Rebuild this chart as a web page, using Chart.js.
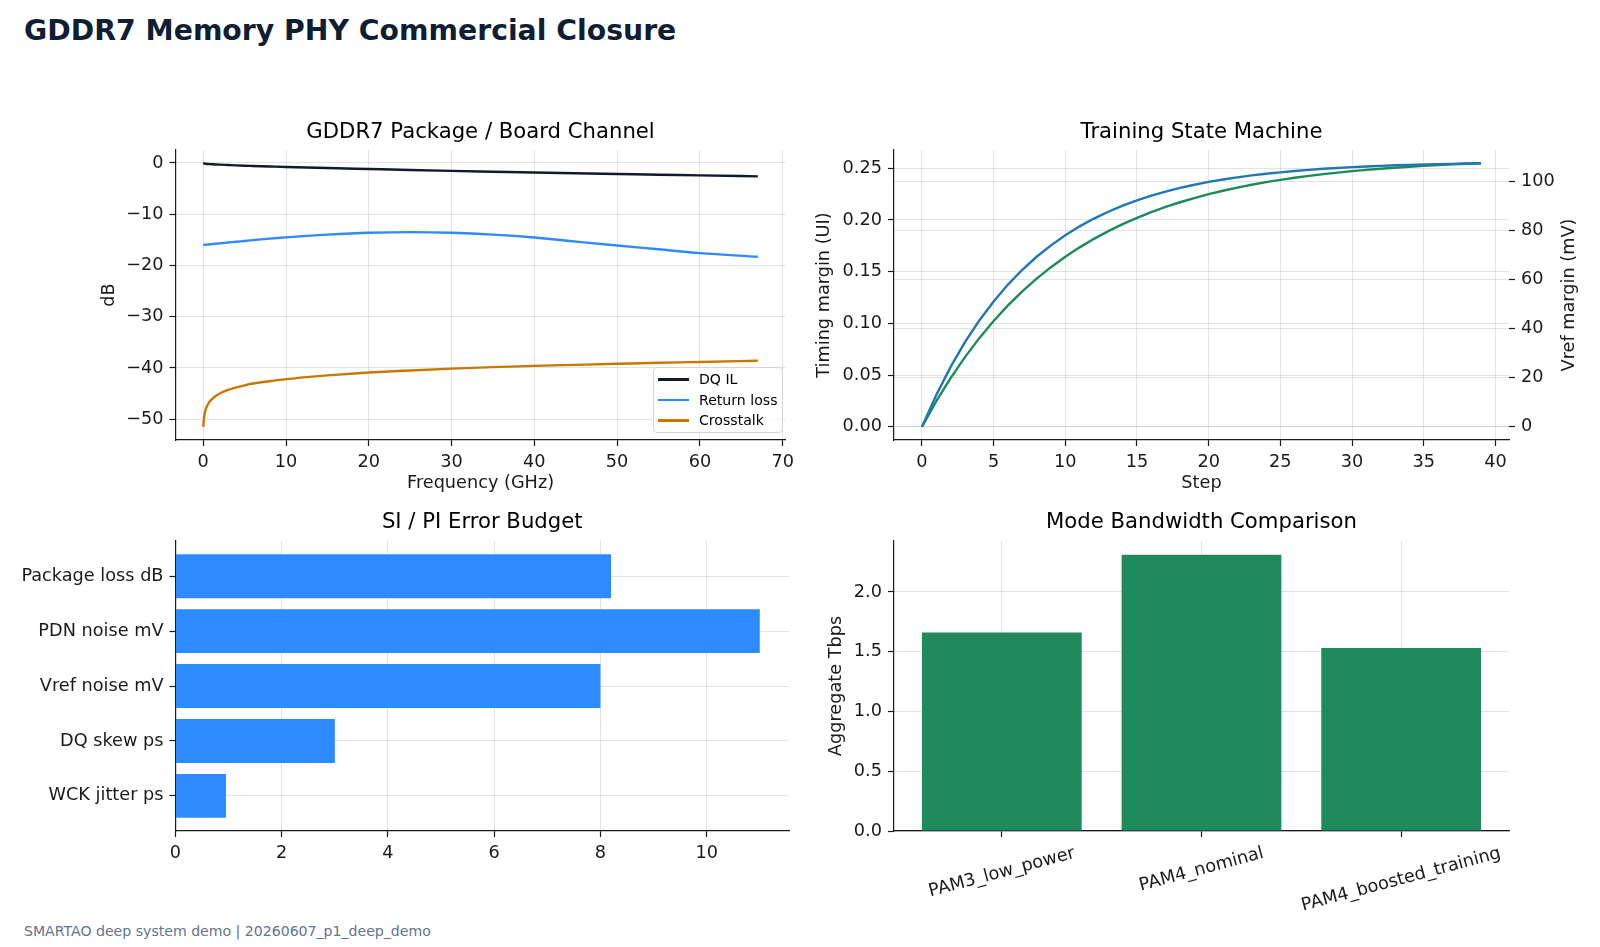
<!DOCTYPE html>
<html>
<head>
<meta charset="utf-8">
<title>GDDR7 Memory PHY Commercial Closure</title>
<script src="https://cdn.jsdelivr.net/npm/chart.js@4.4.1/dist/chart.umd.min.js"></script>
<style>
    html, body { margin: 0; padding: 0; background: #fff; }
    body { width: 1600px; height: 947px; position: relative; overflow: hidden; font-family: 'DejaVu Sans', sans-serif; }
    .suptitle { position: absolute; left: 24px; top: 17px; margin: 0; font-size: 28.3px; line-height: 28px; font-weight: bold; color: #0f1e32; white-space: nowrap; }
    .footer { position: absolute; left: 24px; top: 924px; font-size: 14.1px; line-height: 14px; color: #64748b; white-space: nowrap; }
    canvas { position: absolute; }
    .legend { position: absolute; left: 653px; top: 367px; width: 128px; height: 64px; border: 1px solid #d4d4d4; border-radius: 4px; background: rgba(255,255,255,0.8); font-size: 14.1px; color: #000; }
    .legend .row { position: absolute; left: 0; height: 20px; line-height: 20px; white-space: nowrap; }
    .legend .swatch { position: absolute; left: 4px; top: 9px; width: 31px; height: 2.5px; }
    .legend .lbl { position: absolute; left: 45px; top: 0; }
</style>
</head>
<body>
<h1 class="suptitle">GDDR7 Memory PHY Commercial Closure</h1>

<canvas id="channelChart" width="800" height="380" style="left:0px; top:120px;"></canvas>
<canvas id="trainingChart" width="800" height="380" style="left:800px; top:120px;"></canvas>
<canvas id="budgetChart" width="800" height="360" style="left:0px; top:510px;"></canvas>
<canvas id="modeChart" width="800" height="430" style="left:800px; top:510px;"></canvas>
<div class="legend" id="channelLegend"></div>

<div class="footer">SMARTAO deep system demo | 20260607_p1_deep_demo</div>

<script>
// --- Data: package / board channel (dB vs GHz) ---
const freqGHz    = [0, 0.1, 0.3, 0.6, 1, 1.5, 2, 3, 4, 5, 6, 8, 10, 12.5, 15, 20, 25, 30, 35, 40, 45, 50, 55, 60, 67];
const dqIL       = [-0.05, -0.1, -0.15, -0.2, -0.24, -0.29, -0.33, -0.4, -0.47, -0.53, -0.58, -0.68, -0.78, -0.89, -0.99, -1.18, -1.37, -1.55, -1.71, -1.87, -2.01, -2.15, -2.29, -2.42, -2.62];
const returnLoss = [-16.0, -15.98, -15.95, -15.91, -15.84, -15.76, -15.69, -15.53, -15.38, -15.22, -15.07, -14.77, -14.53, -14.23, -13.98, -13.62, -13.5, -13.62, -13.98, -14.55, -15.35, -16.12, -16.85, -17.6, -18.3];
const crosstalk  = [-51.5, -49.7, -48.1, -47.0, -46.2, -45.5, -45.0, -44.3, -43.8, -43.4, -43.05, -42.6, -42.2, -41.8, -41.45, -40.9, -40.5, -40.15, -39.85, -39.6, -39.4, -39.2, -39.0, -38.85, -38.6];
const channelLabels = ['DQ IL', 'Return loss', 'Crosstalk'];
const freqTicks = [0, 10, 20, 30, 40, 50, 60, 70];
const dbTicks = [-50, -40, -30, -20, -10, 0];

// --- Data: training state machine ---
const steps = [0, 1, 2, 3, 4, 5, 6, 7, 8, 9, 10, 11, 12, 13, 14, 15, 16, 17, 18, 19, 20, 21, 22, 23, 24, 25, 26, 27, 28, 29, 30, 31, 32, 33, 34, 35, 36, 37, 38, 39];
const timingMargin = [0, 0.0308, 0.0579, 0.0818, 0.1028, 0.1212, 0.1375, 0.1518, 0.1644, 0.1754,
    0.1852, 0.1938, 0.2013, 0.2079, 0.2138, 0.2189, 0.2234, 0.2274, 0.2309, 0.234,
    0.2367, 0.2391, 0.2411, 0.243, 0.2446, 0.246, 0.2473, 0.2484, 0.2494, 0.2502,
    0.251, 0.2517, 0.2522, 0.2528, 0.2532, 0.2536, 0.2539, 0.2542, 0.2545, 0.2548];
const vrefMargin = [0, 10.42, 19.85, 28.38, 36.1, 43.09, 49.41, 55.12, 60.3, 64.98,
    69.22, 73.05, 76.52, 79.66, 82.5, 85.07, 87.39, 89.49, 91.4, 93.12,
    94.68, 96.09, 97.37, 98.52, 99.57, 100.51, 101.36, 102.14, 102.84, 103.48,
    104.05, 104.57, 105.03, 105.46, 105.84, 106.19, 106.51, 106.8, 107.05, 107.29];
const stepTicks = [0, 5, 10, 15, 20, 25, 30, 35, 40];
const timingTicks = [0, 0.05, 0.1, 0.15, 0.2, 0.25];
const vrefTicks = [0, 20, 40, 60, 80, 100];

// --- Data: SI / PI error budget (top to bottom) ---
const budgetItems = ['Package loss dB', 'PDN noise mV', 'Vref noise mV', 'DQ skew ps', 'WCK jitter ps'];
const budgetValues = [8.2, 11.0, 8.0, 3.0, 0.95];
const budgetTicks = [0, 2, 4, 6, 8, 10];

// --- Data: mode bandwidth ---
const modes = ['PAM3_low_power', 'PAM4_nominal', 'PAM4_boosted_training'];
const modeTbps = [1.66, 2.31, 1.53];
const tbpsTicks = [0, 0.5, 1.0, 1.5, 2.0];

// --- Styling ---
const INK = '#1a1a1a';
const GRID = 'rgba(176,176,176,0.35)';
const CHANNEL_COLORS = ['#0f1b2d', '#2e8bff', '#c87800'];
const TIMING_COLOR = '#1f77b4';
const VREF_COLOR = '#1d8a5a';
const BUDGET_COLOR = '#2e8bff';
const MODE_COLOR = '#218a5c';
const TICK_FONT = 17.7;
const TITLE_FONT = 21.2;

Chart.defaults.font.family = "'DejaVu Sans', sans-serif";
Chart.defaults.font.size = TICK_FONT;
Chart.defaults.color = INK;

window.onload = () => {
    buildLegend();
    drawChannel();
    drawTraining();
    drawBudget();
    drawModes();
};

// matplotlib style 5% margins
function limits(lo, hi) {
    const m = (hi - lo) * 0.05;
    return [lo - m, hi + m];
}

const minus = v => String(v).replace('-', '\u2212');

function makeScale(o) {
    return {
        type: 'linear',
        position: o.position,
        min: o.min, max: o.max,
        reverse: !!o.reverse,
        offset: false,
        z: o.z || 0,
        afterBuildTicks: s => { s.ticks = o.ticks.map(v => ({ value: v })); },
        afterFit: s => { if (s.isHorizontal()) s.height = o.size; else s.width = o.size; },
        ticks: { display: o.showLabels !== false, padding: 6, color: INK, autoSkip: false, maxRotation: 0, minRotation: 0, callback: o.fmt || (v => v) },
        grid: { display: true, offset: false, color: GRID, lineWidth: 1, drawTicks: true, tickLength: 6, tickColor: INK, tickWidth: 1.2, drawOnChartArea: true },
        border: { display: o.border !== false, color: INK, width: 1.2 },
        title: o.title
            ? { display: true, text: o.title, color: INK, padding: o.titlePad, font: { size: TICK_FONT } }
            : { display: false }
    };
}

// title centred over the plot area, like matplotlib's ax.set_title
function titleOpts(text, bottom) {
    return { display: true, fullSize: false, text: text, color: '#000', font: { size: TITLE_FONT, weight: 'normal' }, padding: { top: 0, bottom: bottom } };
}

const baseOpts = {
    responsive: false,
    animation: false,
    devicePixelRatio: 1,
    events: []
};

// --- Plugins ---
const rightAxisTitle = {
    id: 'rightAxisTitle',
    afterDraw(chart, args, opts) {
        const { ctx, chartArea } = chart;
        ctx.save();
        ctx.font = TICK_FONT + "px 'DejaVu Sans'";
        ctx.fillStyle = INK;
        ctx.textAlign = 'center';
        ctx.textBaseline = 'middle';
        ctx.translate(opts.x, (chartArea.top + chartArea.bottom) / 2);
        ctx.rotate(-Math.PI / 2);
        ctx.fillText(opts.text, 0, 0);
        ctx.restore();
    }
};

const slantedLabels = {
    id: 'slantedLabels',
    afterDraw(chart, args, opts) {
        const { ctx, chartArea } = chart;
        const xs = chart.scales.x;
        const a = opts.angle * Math.PI / 180;
        ctx.save();
        ctx.font = TICK_FONT + "px 'DejaVu Sans'";
        ctx.fillStyle = INK;
        ctx.textAlign = 'center';
        ctx.textBaseline = 'middle';
        opts.labels.forEach((t, i) => {
            const w = ctx.measureText(t).width;
            const boxH = w * Math.sin(a) + opts.lineH * Math.cos(a);
            const cx = xs.getPixelForValue(i);
            const cy = chartArea.bottom + opts.gap + boxH / 2;
            ctx.save();
            ctx.translate(cx, cy);
            ctx.rotate(-a);
            ctx.fillText(t, 0, 0);
            ctx.restore();
        });
        ctx.restore();
    }
};

// --- Panels ---
function buildLegend() {
    const box = document.getElementById('channelLegend');
    const tops = [1, 21.5, 42];
    channelLabels.forEach((name, i) => {
        const row = document.createElement('div');
        row.className = 'row';
        row.style.top = tops[i] + 'px';
        row.innerHTML = `<span class="swatch" style="background:${CHANNEL_COLORS[i]}"></span><span class="lbl">${name}</span>`;
        box.appendChild(row);
    });
}

function drawChannel() {
    const series = [dqIL, returnLoss, crosstalk];
    const [xMin, xMax] = limits(Math.min(...freqGHz), Math.max(...freqGHz));
    const all = series.flat();
    const [yMin, yMax] = limits(Math.min(...all), Math.max(...all));

    new Chart(document.getElementById('channelChart'), {
        type: 'line',
        data: {
            datasets: series.map((vals, i) => ({
                label: channelLabels[i],
                data: freqGHz.map((f, j) => ({ x: f, y: vals[j] })),
                borderColor: CHANNEL_COLORS[i],
                borderWidth: 2.4,
                pointRadius: 0,
                cubicInterpolationMode: 'monotone',
                fill: false
            }))
        },
        options: {
            ...baseOpts,
            layout: { padding: { left: 0, right: 11, top: 0, bottom: 0 } },
            plugins: { legend: { display: false }, tooltip: { enabled: false }, title: titleOpts('GDDR7 Package / Board Channel', 4.6) },
            scales: {
                x: makeScale({ min: xMin, max: xMax, ticks: freqTicks, size: 60, title: 'Frequency (GHz)', titlePad: { top: 0, bottom: 5.7 } }),
                y: makeScale({ min: yMin, max: yMax, ticks: dbTicks, size: 175.5, fmt: minus, title: 'dB', titlePad: { top: 98.4, bottom: 0 } })
            }
        }
    });
}

function drawTraining() {
    const [xMin, xMax] = limits(steps[0], steps[steps.length - 1]);
    const [tMin, tMax] = limits(Math.min(...timingMargin), Math.max(...timingMargin));
    const [vMin, vMax] = limits(Math.min(...vrefMargin), Math.max(...vrefMargin));

    new Chart(document.getElementById('trainingChart'), {
        type: 'line',
        data: {
            datasets: [
                { label: 'Timing margin', yAxisID: 'y', data: steps.map((s, i) => ({ x: s, y: timingMargin[i] })),
                  borderColor: TIMING_COLOR, borderWidth: 2.4, pointRadius: 0, tension: 0, fill: false },
                { label: 'Vref margin', yAxisID: 'y2', data: steps.map((s, i) => ({ x: s, y: vrefMargin[i] })),
                  borderColor: VREF_COLOR, borderWidth: 2.4, pointRadius: 0, tension: 0, fill: false }
            ]
        },
        plugins: [rightAxisTitle],
        options: {
            ...baseOpts,
            layout: { padding: 0 },
            plugins: {
                legend: { display: false }, tooltip: { enabled: false },
                title: titleOpts('Training State Machine', 4.6),
                rightAxisTitle: { text: 'Vref margin (mV)', x: 769 }
            },
            scales: {
                x: makeScale({ min: xMin, max: xMax, ticks: stepTicks, size: 60, title: 'Step', titlePad: { top: 0, bottom: 5.7 } }),
                y: makeScale({ position: 'left', min: tMin, max: tMax, ticks: timingTicks, size: 94, fmt: v => v.toFixed(2), title: 'Timing margin (UI)', titlePad: { top: 14, bottom: 0 } }),
                y2: makeScale({ position: 'right', min: vMin, max: vMax, ticks: vrefTicks, size: 91, border: false })
            }
        }
    });
}

function drawBudget() {
    const [yMin, yMax] = limits(-0.4, budgetItems.length - 1 + 0.4);
    new Chart(document.getElementById('budgetChart'), {
        type: 'bar',
        data: {
            datasets: [{
                data: budgetValues.map((v, i) => ({ x: v, y: i })),
                backgroundColor: BUDGET_COLOR,
                barPercentage: 0.8,
                categoryPercentage: 1.0
            }]
        },
        options: {
            ...baseOpts,
            indexAxis: 'y',
            layout: { padding: { left: 0, right: 11, top: 0, bottom: 0 } },
            plugins: { legend: { display: false }, tooltip: { enabled: false }, title: titleOpts('SI / PI Error Budget', 5.6) },
            scales: {
                x: makeScale({ min: 0, max: Math.max(...budgetValues) * 1.05, ticks: budgetTicks, size: 39, z: 1 }),
                y: makeScale({ min: yMin, max: yMax, reverse: true, ticks: [0, 1, 2, 3, 4], size: 175.5, z: 1, fmt: v => budgetItems[v] })
            }
        }
    });
}

function drawModes() {
    const [xMin, xMax] = limits(-0.4, modes.length - 1 + 0.4);
    new Chart(document.getElementById('modeChart'), {
        type: 'bar',
        data: {
            datasets: [{
                data: modeTbps.map((v, i) => ({ x: i, y: v })),
                backgroundColor: MODE_COLOR,
                barPercentage: 0.8,
                categoryPercentage: 1.0
            }]
        },
        plugins: [slantedLabels],
        options: {
            ...baseOpts,
            layout: { padding: { left: 0, right: 91, top: 0, bottom: 0 } },
            plugins: {
                legend: { display: false }, tooltip: { enabled: false },
                title: titleOpts('Mode Bandwidth Comparison', 5.6),
                slantedLabels: { labels: modes, angle: 15, gap: 12.4, lineH: 20 }
            },
            scales: {
                x: makeScale({ min: xMin, max: xMax, ticks: [0, 1, 2], size: 109, z: 1, showLabels: false }),
                y: makeScale({ min: 0, max: Math.max(...modeTbps) * 1.05, ticks: tbpsTicks, size: 94, z: 1, fmt: v => v.toFixed(1), title: 'Aggregate Tbps', titlePad: { top: 26, bottom: 0 } })
            }
        }
    });
}
</script>
</body>
</html>
